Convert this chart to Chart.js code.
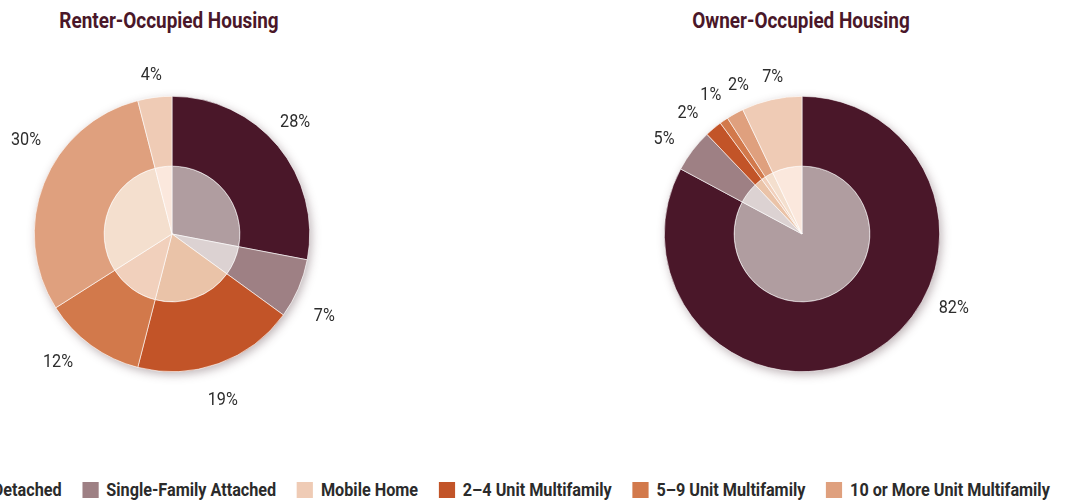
<!DOCTYPE html>
<html>
<head>
<meta charset="utf-8">
<script src="https://cdn.jsdelivr.net/npm/chart.js@4.4.1/dist/chart.umd.min.js"></script>
<style>
  html, body { margin: 0; padding: 0; background: #fff; }
  body { width: 1067px; height: 500px; position: relative; overflow: hidden; font-family: Roboto, "Liberation Sans", sans-serif; }
  .title { position: absolute; top: 8px; width: 300px; line-height: 26px; text-align: center; font-weight: bold; font-size: 22px; color: #4a1729; transform: scaleX(0.86); }
  .pie { position: absolute; top: 34px; width: 400px; height: 400px; }
  #legend { position: absolute; right: 17px; top: 479px; display: flex; white-space: nowrap; font-weight: bold; font-size: 18px; line-height: 22px; color: #2b2b2b; transform: scaleX(0.9); transform-origin: right center; }
  #legend .item { display: flex; align-items: center; margin-left: 23px; }
  #legend .box { width: 17.8px; height: 16px; margin-right: 8.9px; }
</style>
</head>
<body>
<div class="title" style="left:19px">Renter-Occupied Housing</div>
<div class="title" style="left:651px">Owner-Occupied Housing</div>
<div class="pie" style="left:-28px"><canvas id="renterChart"></canvas></div>
<div class="pie" style="left:602px"><canvas id="ownerChart"></canvas></div>
<div id="legend"></div>
<script>
// slice order as drawn, clockwise from 12 o'clock
const categories = ['Single-Family Detached', 'Single-Family Attached', '2\u20134 Unit Multifamily', '5\u20139 Unit Multifamily', '10 or More Unit Multifamily', 'Mobile Home'];
const legendOrder = ['Single-Family Detached', 'Single-Family Attached', 'Mobile Home', '2\u20134 Unit Multifamily', '5\u20139 Unit Multifamily', '10 or More Unit Multifamily'];
const renterValues = [28, 7, 19, 12, 30, 4];
const ownerValues = [82, 5, 2, 1, 2, 7];

const outerColors = ['#4a1729', '#9e8084', '#c25428', '#d2794b', '#dfa07e', '#efcbb5'];
const innerColors = ['#b09da0', '#dcd2d2', '#eac3a8', '#f1d0bc', '#f4dfce', '#fbe8dd'];

// label placement: angle nudge (deg) off the slice middle, and distance outside the rim (px)
const renterLabelShift = [-2.8, 4.7, 2.7, 5.9, 11.2, -0.2];
const renterLabelGap = [29, 35, 35, 33, 36, 23];
const ownerLabelShift = [-33.2, -2.6, -3.2, 1.4, 6, 2.2];
const ownerLabelGap = [31, 30, 29, 29, 24.5, 23];

const shadowPlugin = {
  id: 'pieShadow',
  beforeDatasetsDraw(chart) {
    const arc = chart.getDatasetMeta(0).data[0];
    if (!arc) return;
    const ctx = chart.ctx;
    ctx.save();
    ctx.shadowColor = 'rgba(70, 40, 50, 0.35)';
    ctx.shadowBlur = 10;
    ctx.shadowOffsetX = 2;
    ctx.shadowOffsetY = 3;
    ctx.fillStyle = '#fff';
    ctx.beginPath();
    ctx.arc(arc.x, arc.y, arc.outerRadius, 0, Math.PI * 2);
    ctx.fill();
    ctx.restore();
  }
};

const labelPlugin = {
  id: 'pctLabels',
  afterDatasetsDraw(chart, args, opts) {
    const ctx = chart.ctx;
    const meta = chart.getDatasetMeta(0);
    const values = chart.data.datasets[0].data;
    ctx.save();
    ctx.font = '18px Roboto, "Liberation Sans", sans-serif';
    ctx.fillStyle = '#2d2d2d';
    ctx.textAlign = 'center';
    ctx.textBaseline = 'middle';
    meta.data.forEach((arc, i) => {
      const mid = (arc.startAngle + arc.endAngle) / 2 + (opts.shift[i] || 0) * Math.PI / 180;
      const r = arc.outerRadius + opts.gap[i];
      ctx.save();
      ctx.translate(arc.x + Math.cos(mid) * r, arc.y + Math.sin(mid) * r + 1);
      ctx.scale(0.9, 1);
      ctx.fillText(values[i] + '%', 0, 0);
      ctx.restore();
    });
    ctx.restore();
  }
};

function makePie(id, values, shift, gap) {
  const ctx = document.getElementById(id).getContext('2d');
  return new Chart(ctx, {
    type: 'pie',
    data: {
      labels: categories,
      datasets: [
        { data: values, backgroundColor: outerColors, borderColor: '#fff', borderWidth: 0.6, weight: 70 },
        { data: values, backgroundColor: innerColors, borderColor: '#fff', borderWidth: 0.6, weight: 68 }
      ]
    },
    options: {
      responsive: true,
      maintainAspectRatio: false,
      animation: false,
      events: [],
      layout: { padding: 62 },
      plugins: {
        legend: { display: false },
        tooltip: { enabled: false },
        pctLabels: { shift: shift, gap: gap }
      }
    },
    plugins: [shadowPlugin, labelPlugin]
  });
}

makePie('renterChart', renterValues, renterLabelShift, renterLabelGap);
makePie('ownerChart', ownerValues, ownerLabelShift, ownerLabelGap);

const legend = document.getElementById('legend');
legendOrder.forEach(name => {
  const item = document.createElement('div');
  item.className = 'item';
  const box = document.createElement('span');
  box.className = 'box';
  box.style.background = outerColors[categories.indexOf(name)];
  const txt = document.createElement('span');
  txt.textContent = name;
  item.appendChild(box);
  item.appendChild(txt);
  legend.appendChild(item);
});
</script>
</body>
</html>
